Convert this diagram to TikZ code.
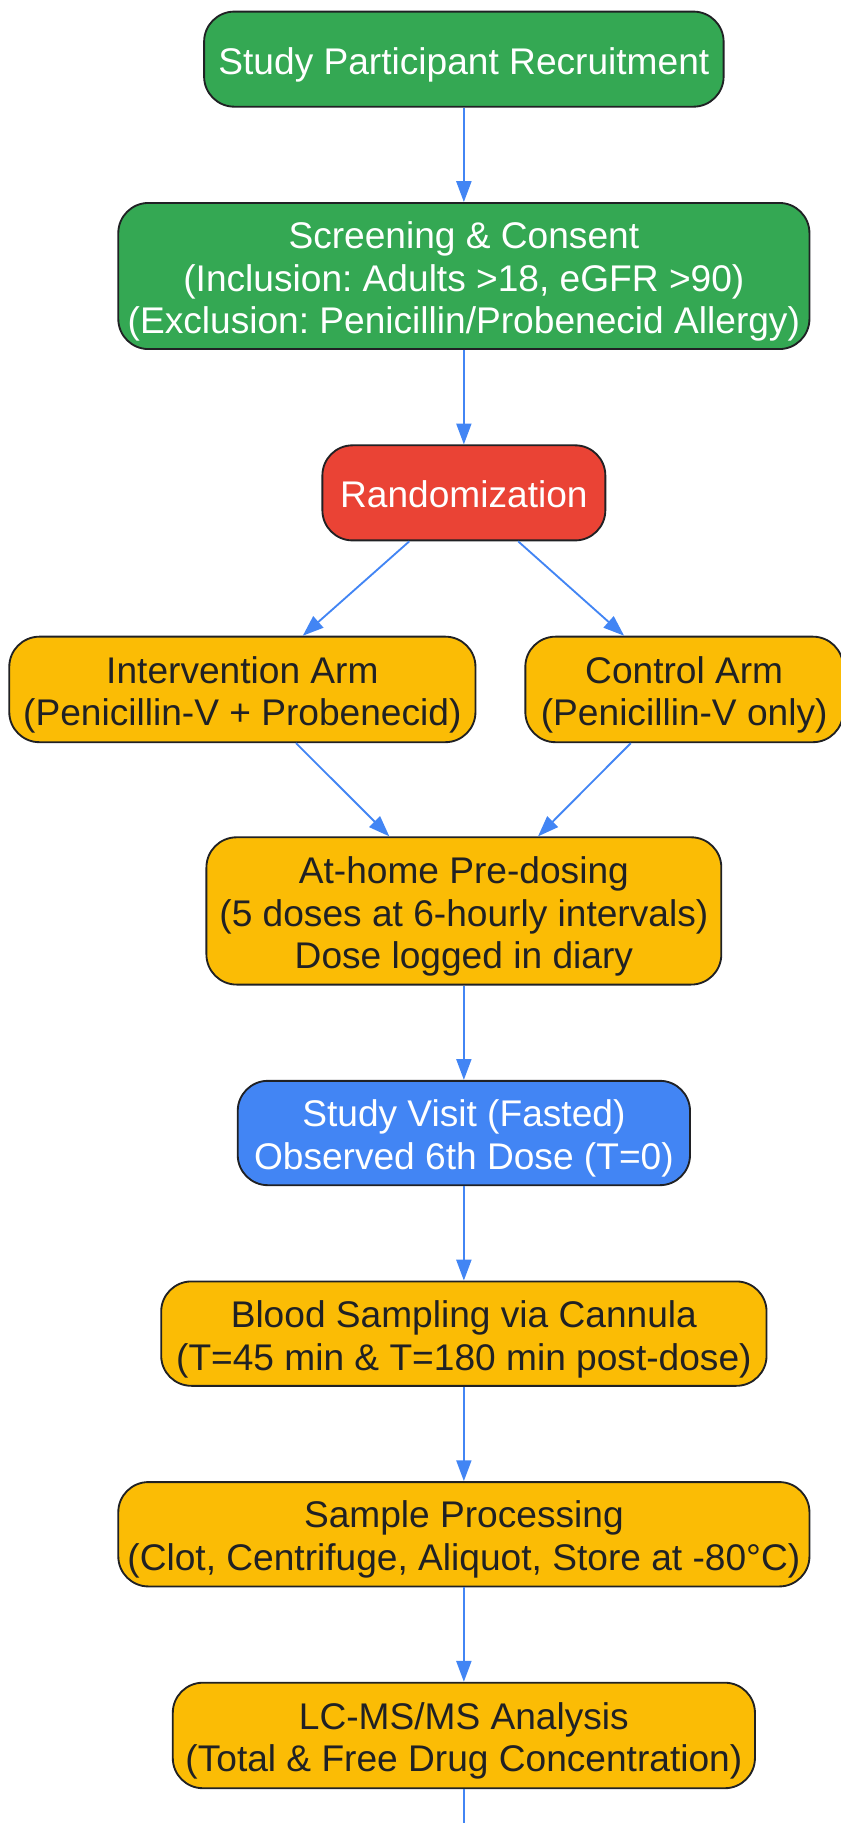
\documentclass[tikz,border=0pt]{standalone}
\usepackage{fontspec}
\setmainfont{Liberation Sans}
\usepackage{tikz}
\usetikzlibrary{arrows.meta}
\frenchspacing

\definecolor{gGreen}{HTML}{34A853}
\definecolor{gRed}{HTML}{EA4335}
\definecolor{gYellow}{HTML}{FBBC05}
\definecolor{gBlue}{HTML}{4285F4}
\definecolor{gInk}{HTML}{202124}

\tikzset{
  stage/.style={draw=gInk, line width=1.6pt, rectangle, rounded corners=26pt,
    align=center, inner sep=0pt, text depth=0pt, font=\fontsize{32}{37}\selectfont},
  oneline/.style={text height=26pt},
  twolines/.style={text height=63pt},
  threelines/.style={text height=100pt},
  greenbox/.style={stage, fill=gGreen, text=white},
  redbox/.style={stage, fill=gRed, text=white},
  yellowbox/.style={stage, fill=gYellow, text=gInk},
  bluebox/.style={stage, fill=gBlue, text=white},
  flow/.style={draw=gBlue, line width=1.6pt, -{Triangle[length=18pt,width=13pt]}}
}

\begin{document}
\begin{tikzpicture}[x=1pt, y=-1pt]
\useasboundingbox (0,0) rectangle (725,1572);
\node (box1) [greenbox, oneline, minimum width=448pt, minimum height=82pt] at (400,51) {Study Participant Recruitment};
\node (box2) [greenbox, threelines, below of=box1, node distance=187pt, minimum width=596pt, minimum height=126pt] {Screening \& Consent\\(Inclusion: Adults >18, eGFR >90)\\(Exclusion: Penicillin/Probenecid Allergy)};
\node (box3) [redbox, oneline, below of=box2, node distance=187pt, minimum width=244pt, minimum height=82pt] {Randomization};
\node (box4) [yellowbox, twolines, minimum width=402pt, minimum height=91pt] at (209,594.5) {Intervention Arm\\(Penicillin-V + Probenecid)};
\node (box5) [yellowbox, twolines, minimum width=274pt, minimum height=91pt] at (590,594.5) {Control Arm\\(Penicillin-V only)};
\node (box6) [yellowbox, threelines, minimum width=444pt, minimum height=127pt] at (400,785.5) {At-home Pre-dosing\\(5 doses at 6-hourly intervals)\\Dose logged in diary};
\node (box7) [bluebox, twolines, below of=box6, node distance=191.5pt, minimum width=390pt, minimum height=90pt] {Study Visit (Fasted)\\Observed 6th Dose (T=0)};
\node (box8) [yellowbox, twolines, below of=box7, node distance=173pt, minimum width=522pt, minimum height=90pt] {Blood Sampling via Cannula\\(T=45 min \& T=180 min post-dose)};
\node (box9) [yellowbox, twolines, below of=box8, node distance=173pt, minimum width=596pt, minimum height=90pt] {Sample Processing\\(Clot, Centrifuge, Aliquot, Store at -80°C)};
\node (box10) [yellowbox, twolines, below of=box9, node distance=173.5pt, minimum width=502pt, minimum height=91pt] {LC-MS/MS Analysis\\(Total \& Free Drug Concentration)};
\coordinate (next) at (400,1572);

% Arrows
\draw[flow] (box1) -- (box2);
\draw[flow] (box2) -- (box3);
\draw[flow] (box3) -- (box4);
\draw[flow] (box3) -- (box5);
\draw[flow] (box4) -- (box6);
\draw[flow] (box5) -- (box6);
\draw[flow] (box6) -- (box7);
\draw[flow] (box7) -- (box8);
\draw[flow] (box8) -- (box9);
\draw[flow] (box9) -- (box10);
\draw[draw=gBlue, line width=1.6pt] (box10) -- (next);
\end{tikzpicture}
\end{document}
